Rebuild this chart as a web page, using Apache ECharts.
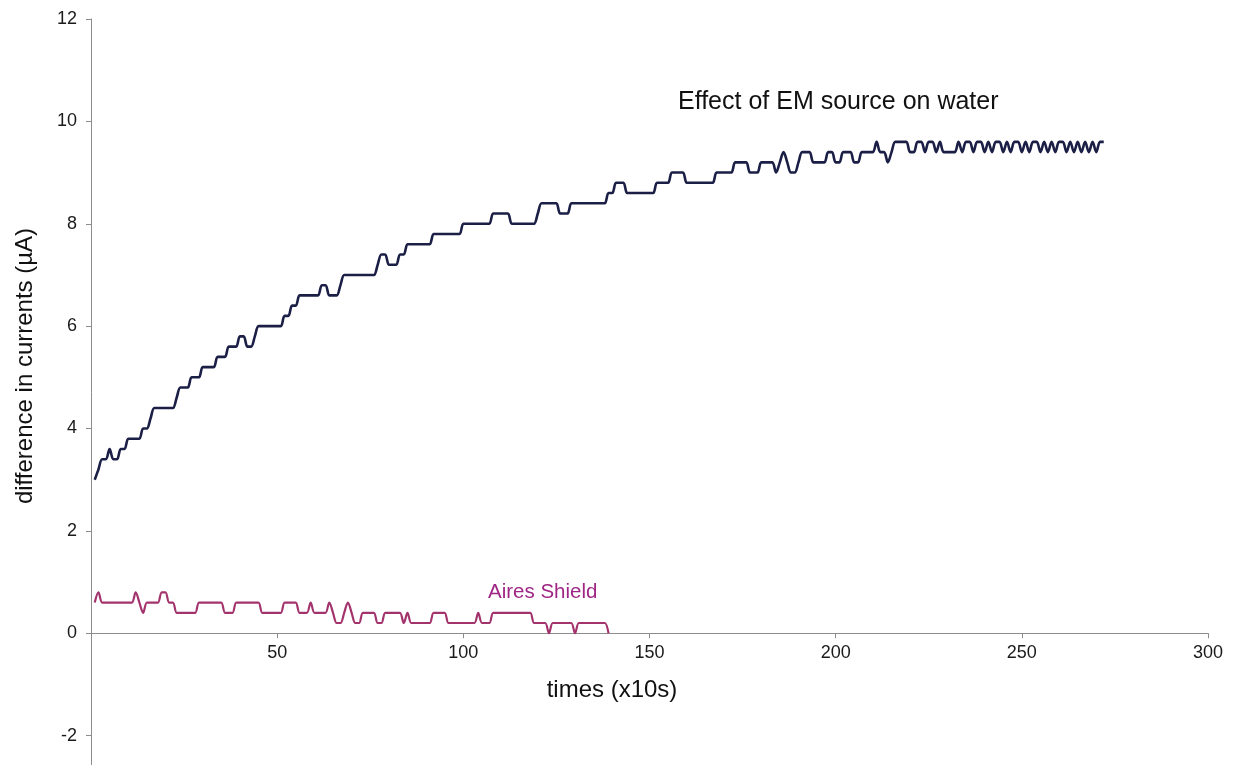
<!DOCTYPE html>
<html>
<head>
<meta charset="utf-8">
<title>Effect of EM source on water</title>
<script src="https://cdn.jsdelivr.net/npm/echarts@6.0.0/dist/echarts.min.js"></script>
<style>
  html, body { margin: 0; padding: 0; background: #fff; }
  #chart { width: 1240px; height: 765px; }
</style>
</head>
<body>
<div id="chart"></div>
<script>
// one reading every 10 s, first reading at t = 1
const emWater = [
  3.0, 3.2, 3.4, 3.4, 3.6, 3.4, 3.4, 3.6, 3.6, 3.8,
  3.8, 3.8, 3.8, 4.0, 4.0, 4.2, 4.4, 4.4, 4.4, 4.4,
  4.4, 4.4, 4.6, 4.8, 4.8, 4.8, 5.0, 5.0, 5.0, 5.2,
  5.2, 5.2, 5.2, 5.4, 5.4, 5.4, 5.6, 5.6, 5.6, 5.8,
  5.8, 5.6, 5.6, 5.8, 6.0, 6.0, 6.0, 6.0, 6.0, 6.0,
  6.0, 6.2, 6.2, 6.4, 6.4, 6.6, 6.6, 6.6, 6.6, 6.6,
  6.6, 6.8, 6.8, 6.6, 6.6, 6.6, 6.8, 7.0, 7.0, 7.0,
  7.0, 7.0, 7.0, 7.0, 7.0, 7.0, 7.2, 7.4, 7.4, 7.2,
  7.2, 7.2, 7.4, 7.4, 7.6, 7.6, 7.6, 7.6, 7.6, 7.6,
  7.6, 7.8, 7.8, 7.8, 7.8, 7.8, 7.8, 7.8, 7.8, 8.0,
  8.0, 8.0, 8.0, 8.0, 8.0, 8.0, 8.0, 8.2, 8.2, 8.2,
  8.2, 8.2, 8.0, 8.0, 8.0, 8.0, 8.0, 8.0, 8.0, 8.2,
  8.4, 8.4, 8.4, 8.4, 8.4, 8.2, 8.2, 8.2, 8.4, 8.4,
  8.4, 8.4, 8.4, 8.4, 8.4, 8.4, 8.4, 8.4, 8.6, 8.6,
  8.8, 8.8, 8.8, 8.6, 8.6, 8.6, 8.6, 8.6, 8.6, 8.6,
  8.6, 8.8, 8.8, 8.8, 8.8, 9.0, 9.0, 9.0, 9.0, 8.8,
  8.8, 8.8, 8.8, 8.8, 8.8, 8.8, 8.8, 9.0, 9.0, 9.0,
  9.0, 9.0, 9.2, 9.2, 9.2, 9.2, 9.0, 9.0, 9.0, 9.2,
  9.2, 9.2, 9.2, 9.0, 9.2, 9.4, 9.2, 9.0, 9.0, 9.2,
  9.4, 9.4, 9.4, 9.2, 9.2, 9.2, 9.2, 9.4, 9.4, 9.2,
  9.2, 9.4, 9.4, 9.4, 9.2, 9.2, 9.4, 9.4, 9.4, 9.4,
  9.6, 9.4, 9.4, 9.2, 9.4, 9.6, 9.6, 9.6, 9.6, 9.4,
  9.4, 9.6, 9.6, 9.4, 9.6, 9.6, 9.4, 9.6, 9.4, 9.4,
  9.4, 9.4, 9.6, 9.4, 9.6, 9.6, 9.4, 9.6, 9.6, 9.4,
  9.6, 9.4, 9.6, 9.6, 9.4, 9.6, 9.4, 9.6, 9.6, 9.4,
  9.6, 9.4, 9.6, 9.6, 9.4, 9.6, 9.4, 9.6, 9.4, 9.6,
  9.6, 9.4, 9.6, 9.4, 9.6, 9.4, 9.6, 9.4, 9.6, 9.4,
  9.6, 9.6,
];

const airesShield = [
  0.6, 0.8, 0.6, 0.6, 0.6, 0.6, 0.6, 0.6, 0.6, 0.6,
  0.6, 0.8, 0.6, 0.4, 0.6, 0.6, 0.6, 0.6, 0.8, 0.8,
  0.6, 0.6, 0.4, 0.4, 0.4, 0.4, 0.4, 0.4, 0.6, 0.6,
  0.6, 0.6, 0.6, 0.6, 0.6, 0.4, 0.4, 0.4, 0.6, 0.6,
  0.6, 0.6, 0.6, 0.6, 0.6, 0.4, 0.4, 0.4, 0.4, 0.4,
  0.4, 0.6, 0.6, 0.6, 0.6, 0.4, 0.4, 0.4, 0.6, 0.4,
  0.4, 0.4, 0.4, 0.6, 0.4, 0.2, 0.2, 0.4, 0.6, 0.4,
  0.2, 0.2, 0.4, 0.4, 0.4, 0.4, 0.2, 0.2, 0.4, 0.4,
  0.4, 0.4, 0.4, 0.2, 0.4, 0.2, 0.2, 0.2, 0.2, 0.2,
  0.2, 0.4, 0.4, 0.4, 0.4, 0.2, 0.2, 0.2, 0.2, 0.2,
  0.2, 0.2, 0.2, 0.4, 0.2, 0.2, 0.2, 0.4, 0.4, 0.4,
  0.4, 0.4, 0.4, 0.4, 0.4, 0.4, 0.4, 0.4, 0.2, 0.2,
  0.2, 0.2, 0.0, 0.2, 0.2, 0.2, 0.2, 0.2, 0.2, 0.0,
  0.2, 0.2, 0.2, 0.2, 0.2, 0.2, 0.2, 0.2, 0.0,
];

const xTicks = { min: 0, max: 300, step: 50 };
const yTicks = { min: -4, max: 12, step: 2 };

const FONT = '"Liberation Sans", Arial, sans-serif';
const AXIS_GREY = '#8c8c8c';

const GRID_TOP = 19;
const GRID_BOTTOM = -73;   // -4 sits below the page edge, so the y axis runs off like the scan
const plotH = 765 - GRID_TOP - GRID_BOTTOM;
// lift the x axis from the grid bottom (y = -4) up to y = 0
const zeroOffset = -plotH * (0 - yTicks.min) / (yTicks.max - yTicks.min);

const toPairs = arr => arr.map((v, i) => [i + 1, v]);

const chart = echarts.init(document.getElementById('chart'));

chart.setOption({
    animation: false,
    backgroundColor: '#fff',
    grid: { left: 91, right: 32, top: GRID_TOP, bottom: GRID_BOTTOM, outerBoundsMode: 'none' },
    xAxis: {
        type: 'value',
        position: 'bottom',
        offset: zeroOffset,
        min: xTicks.min,
        max: xTicks.max,
        interval: xTicks.step,
        axisLine: { onZero: false, lineStyle: { color: AXIS_GREY, width: 1 } },
        axisTick: { show: true, length: 5, lineStyle: { color: AXIS_GREY } },
        axisLabel: {
            fontSize: 18, color: '#1a1a1a', fontFamily: FONT, margin: 11,
            formatter: v => (v === 0 ? '' : String(v)),
        },
        splitLine: { show: false },
    },
    yAxis: {
        type: 'value',
        min: yTicks.min,
        max: yTicks.max,
        interval: yTicks.step,
        axisLine: { show: true, lineStyle: { color: AXIS_GREY, width: 1 } },
        axisTick: { show: true, length: 5, lineStyle: { color: AXIS_GREY } },
        axisLabel: { fontSize: 18, color: '#1a1a1a', fontFamily: FONT, margin: 14 },
        splitLine: { show: false },
    },
    graphic: [
        {
            type: 'text', x: 25, y: 366, rotation: Math.PI / 2,
            style: { text: 'difference in currents (µA)', fontSize: 24, fontFamily: FONT, fill: '#111', align: 'center', verticalAlign: 'middle' },
        },
        {
            type: 'text', x: 612, y: 690,
            style: { text: 'times (x10s)', fontSize: 24, fontFamily: FONT, fill: '#111', align: 'center', verticalAlign: 'middle' },
        },
        {
            type: 'text', x: 678, y: 102,
            style: { text: 'Effect of EM source on water', fontSize: 25, fontFamily: FONT, fill: '#111', align: 'left', verticalAlign: 'middle' },
        },
        {
            type: 'text', x: 488, y: 592,
            style: { text: 'Aires Shield', fontSize: 20.5, fontFamily: FONT, fill: '#a02685', align: 'left', verticalAlign: 'middle' },
        },
    ],
    series: [
        {
            name: 'Effect of EM source on water',
            type: 'line',
            data: toPairs(emWater),
            smooth: 0.33,
            symbol: 'none',
            lineStyle: { color: '#1b1f45', width: 2.6 },
        },
        {
            name: 'Aires Shield',
            type: 'line',
            data: toPairs(airesShield),
            smooth: 0.33,
            symbol: 'none',
            lineStyle: { color: '#a3336c', width: 2.2 },
        },
    ],
});
</script>
</body>
</html>
